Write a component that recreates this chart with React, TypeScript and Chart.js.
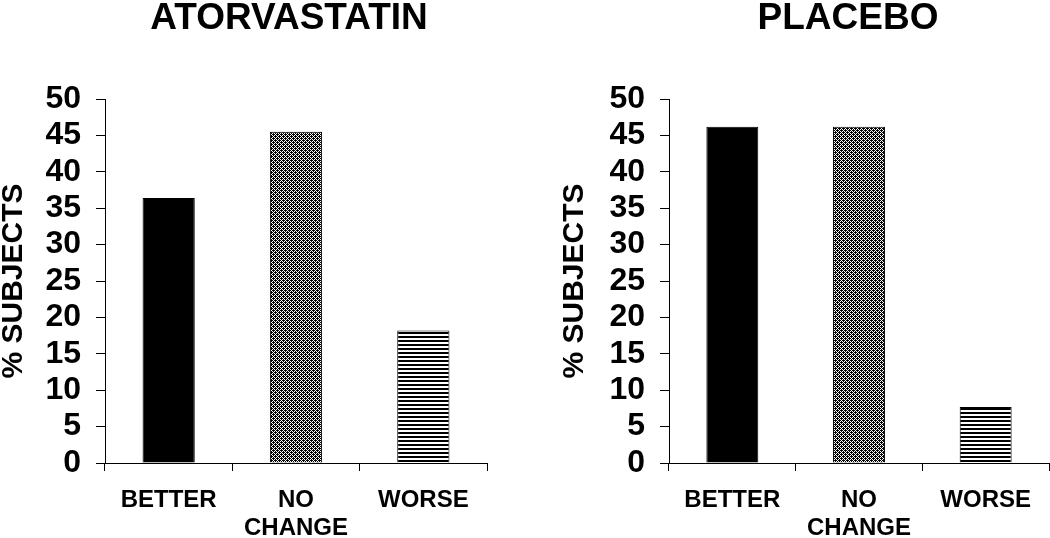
import React, { useEffect, useRef } from "react";
import { Chart, registerables } from "chart.js";

Chart.register(...registerables);

const categories: (string | string[])[] = ["BETTER", ["NO", "CHANGE"], "WORSE"];
const atorvastatinValues = [36.4, 45.5, 18.2];
const placeboValues = [46.2, 46.2, 7.7];
const yMin = 0;
const yMax = 50;
const yStep = 5;
const leftTitle = "ATORVASTATIN";
const rightTitle = "PLACEBO";
const yTitle = "% SUBJECTS";

const FONT = '"Liberation Sans", Arial, Helvetica, sans-serif';

const panelTitle = {
  id: "panelTitle",
  afterDraw(chart: any, _args: any, opts: any) {
    const ctx = chart.ctx as CanvasRenderingContext2D;
    ctx.save();
    ctx.font = `bold 37px ${FONT}`;
    ctx.fillStyle = "#000";
    ctx.textAlign = "center";
    ctx.textBaseline = "alphabetic";
    ctx.fillText(opts.text, opts.x, opts.y);
    ctx.restore();
  },
};

function makeChecker(): CanvasPattern | string {
  const c = document.createElement("canvas");
  c.width = 4;
  c.height = 4;
  const g = c.getContext("2d");
  if (!g) return "#777";
  g.fillStyle = "#fff";
  g.fillRect(0, 0, 4, 4);
  g.fillStyle = "#000";
  for (let y = 0; y < 4; y++) {
    for (let x = 0; x < 4; x++) {
      if ((x + y) % 2 === 0) g.fillRect(x, y, 1, 1);
    }
  }
  g.fillRect(1, 2, 1, 1);
  g.fillRect(3, 0, 1, 1);
  const p = g.createPattern(c, "repeat");
  return p || "#777";
}

function makeStripes(): CanvasPattern | string {
  const c = document.createElement("canvas");
  c.width = 4;
  c.height = 4;
  const g = c.getContext("2d");
  if (!g) return "#777";
  g.fillStyle = "#fff";
  g.fillRect(0, 0, 4, 4);
  g.fillStyle = "#000";
  g.fillRect(0, 0, 4, 2);
  const p = g.createPattern(c, "repeat");
  return p || "#777";
}

function buildConfig(
  values: number[],
  title: string,
  titleX: number,
  padding: { left: number; right: number },
  yWidth: number
): any {
  const fills = ["#000", makeChecker(), makeStripes()];
  return {
    type: "bar",
    data: {
      labels: categories,
      datasets: [
        {
          data: values,
          backgroundColor: fills,
          borderColor: "#000",
          borderWidth: 1,
          barPercentage: 0.41,
          categoryPercentage: 1.0,
        },
      ],
    },
    options: {
      animation: false,
      responsive: false,
      maintainAspectRatio: false,
      layout: {
        padding: { left: padding.left, right: padding.right, top: 99, bottom: 0 },
      },
      plugins: {
        legend: { display: false },
        tooltip: { enabled: false },
        title: { display: false },
        panelTitle: { text: title, x: titleX, y: 29 },
      },
      scales: {
        x: {
          afterFit: (s: any) => {
            s.height = 75;
          },
          grid: {
            offset: true,
            drawOnChartArea: false,
            drawTicks: true,
            tickLength: 8,
            color: "#000",
            lineWidth: 1,
          },
          border: { display: true, color: "#000", width: 1 },
          ticks: {
            color: "#000",
            padding: 15,
            maxRotation: 0,
            autoSkip: false,
            font: { family: FONT, size: 24, weight: "bold", lineHeight: 1.17 },
          },
        },
        y: {
          min: yMin,
          max: yMax,
          afterFit: (s: any) => {
            s.width = yWidth;
          },
          grid: {
            drawOnChartArea: false,
            drawTicks: true,
            tickLength: 9,
            color: "#000",
            lineWidth: 1,
          },
          border: { display: true, color: "#000", width: 1 },
          ticks: {
            stepSize: yStep,
            autoSkip: false,
            color: "#000",
            padding: 15,
            font: { family: FONT, size: 32, weight: "bold" },
          },
          title: {
            display: true,
            text: yTitle,
            color: "#000",
            padding: 0,
            font: { family: FONT, size: 30, weight: "bold", lineHeight: 0.9 },
          },
        },
      },
    },
    plugins: [panelTitle],
  };
}

export default function App() {
  const leftRef = useRef<HTMLCanvasElement>(null);
  const rightRef = useRef<HTMLCanvasElement>(null);

  useEffect(() => {
    const charts: Chart[] = [];
    if (leftRef.current) {
      charts.push(
        new Chart(
          leftRef.current,
          buildConfig(atorvastatinValues, leftTitle, 289, { left: 0, right: 73 }, 105)
        )
      );
    }
    if (rightRef.current) {
      charts.push(
        new Chart(
          rightRef.current,
          buildConfig(placeboValues, rightTitle, 288, { left: 1, right: 1 }, 108)
        )
      );
    }
    return () => {
      charts.forEach((c) => c.destroy());
    };
  }, []);

  return (
    <div style={{ position: "absolute", left: 0, top: 0, width: 1050, height: 538, background: "#fff" }}>
      <canvas
        ref={leftRef}
        width={560}
        height={538}
        style={{ position: "absolute", left: 0, top: 0, width: 560, height: 538 }}
      />
      <canvas
        ref={rightRef}
        width={490}
        height={538}
        style={{ position: "absolute", left: 560, top: 0, width: 490, height: 538 }}
      />
    </div>
  );
}
